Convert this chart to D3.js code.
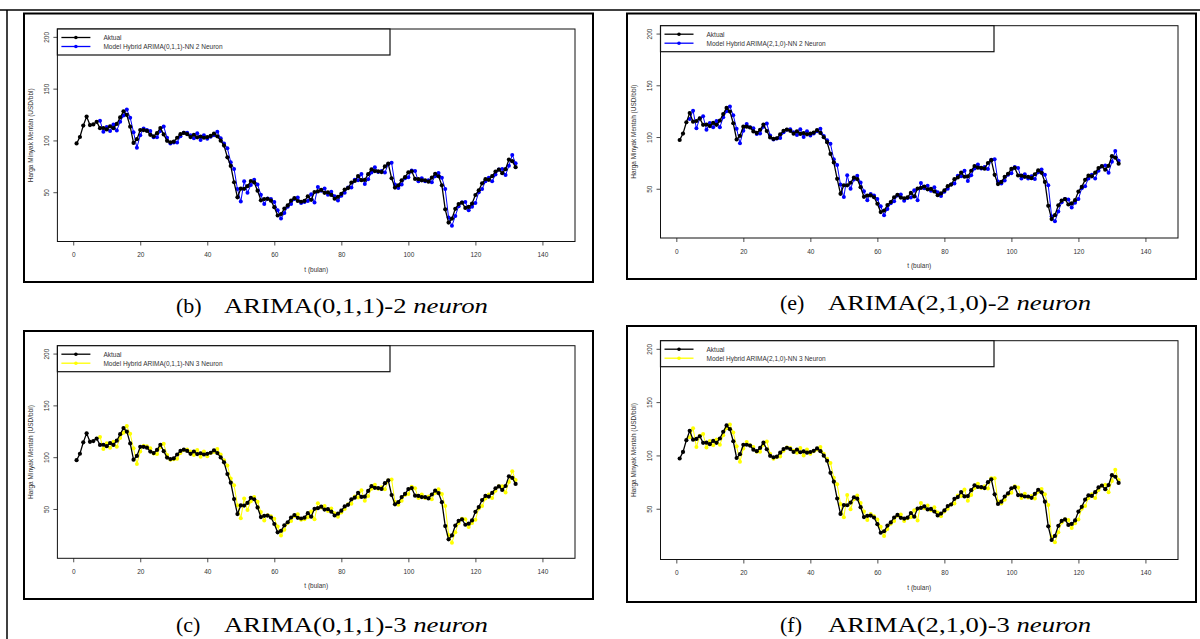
<!DOCTYPE html>
<html><head><meta charset="utf-8">
<script src="https://cdn.jsdelivr.net/npm/d3@7/dist/d3.min.js"></script>
<style>body{margin:0;background:#fff}</style>
</head><body>
<svg id="chart" width="1200" height="639" xmlns="http://www.w3.org/2000/svg"></svg>
<script>
// ---------- data ----------
const xTicks = [0, 20, 40, 60, 80, 100, 120, 140];
const yTicks = [50, 100, 150, 200];
const xLabel = "t (bulan)";
const yLabel = "Harga Minyak Mentah (USD/bbl)";
const legendActual = "Aktual";

// actual monthly crude price, t = 1..132
const actual = [
  97.1, 103.3, 114.3, 123.1, 114.8, 115.5, 118.0, 111.8, 112.0, 110.6,
  113.6, 111.8, 115.9, 122.2, 128.1, 124.6, 113.3, 97.6, 101.2, 110.0,
  110.0, 109.2, 105.4, 104.0, 107.0, 112.0, 105.8, 99.6, 98.2, 98.8,
  102.6, 106.0, 107.2, 106.0, 103.2, 105.5, 103.0, 103.8, 102.6, 103.2,
  104.3, 106.6, 104.0, 99.8, 95.0, 83.7, 75.4, 59.6, 45.1, 53.4,
  53.3, 55.8, 60.8, 59.4, 51.5, 42.2, 43.4, 43.6, 41.8, 35.5,
  27.5, 28.9, 34.2, 37.2, 41.8, 44.2, 41.5, 40.8, 41.6, 46.0,
  42.6, 50.2, 50.8, 52.2, 49.4, 49.8, 47.4, 43.7, 45.5, 48.4,
  52.5, 54.0, 59.3, 60.9, 65.6, 61.6, 61.9, 67.4, 72.0, 70.4,
  70.2, 69.4, 74.9, 77.6, 63.5, 54.5, 56.6, 61.5, 64.5, 69.2,
  70.2, 62.8, 62.6, 61.5, 61.5, 60.2, 64.0, 67.8, 65.4, 56.6,
  33.5, 20.7, 24.5, 34.0, 38.6, 40.0, 34.8, 35.8, 39.0, 47.3,
  51.8, 58.6, 62.6, 62.0, 65.5, 70.0, 71.8, 68.4, 72.2, 81.5,
  80.0, 74.2
];

// ARIMA(0,1,1)-NN 2 neuron, t = 8..132
const startB = 8;
const predB = [
  119, 108.5, 113, 109, 115.5, 109.5, 118, 124, 129.8, 122,
  108, 93, 105, 111.5, 110, 109, 103, 103, 109, 113.5,
  102.5, 97, 98, 98, 104, 107.5, 107.5, 105, 102, 107,
  100.5, 105, 101.5, 103.5, 105, 108.5, 102, 97, 92.5, 79,
  72.5, 53, 41, 60.5, 49.5, 57, 62, 57.5, 47.5, 38.5,
  44, 43.5, 40.5, 32.5, 24.5, 30, 36, 38.5, 43.5, 45,
  39.5, 40.5, 41.5, 48, 40, 55, 51.5, 53.5, 47.5, 50.5,
  46, 42, 46.5, 49.5, 54.5, 54.5, 62, 61.5, 67.5, 58,
  62.5, 69, 74, 69.5, 70.5, 69, 77, 78.5, 57.5, 54,
  57.5, 63.5, 64.5, 71, 70.5, 60.5, 63.5, 60.5, 61.5, 59.5,
  65.5, 68.5, 64, 53, 25.5, 17.5, 27, 36.5, 40, 40.5,
  32.5, 36, 39.5, 50, 53, 60.5, 64, 60.5, 67, 72,
  72.5, 66.5, 75.5, 86, 78
];

// ARIMA(0,1,1)-NN 3 neuron, t = 8..132
const startC = 8;
const predC = [
  119.5, 108, 113.5, 109, 115, 110, 118.5, 123.5, 130, 122.5,
  108.5, 93.5, 105.5, 111, 110.5, 108.5, 103.5, 103, 109.5, 113,
  102, 97.5, 98, 98.5, 104, 107, 107.5, 105.5, 102, 107,
  100.5, 105.5, 101, 104, 105, 108, 102.5, 97, 92, 79.5,
  73, 53.5, 41, 60, 49, 57.5, 61.5, 57, 47, 39,
  44, 43, 40.5, 33, 24.5, 30, 36.5, 38.5, 43, 45,
  39.5, 40, 42, 47.5, 40, 55.5, 51.5, 53, 48, 50.5,
  46, 42.5, 46.5, 50, 54.5, 55, 62, 61, 68, 58,
  62.5, 69.5, 73.5, 69.5, 71, 69, 77.5, 78.5, 57, 54,
  58, 63.5, 64.5, 71.5, 70, 60.5, 64, 60.5, 62, 59.5,
  65.5, 69, 64.5, 53, 25, 17.5, 27.5, 36.5, 40.5, 40,
  32.5, 36.5, 39.5, 50.5, 53, 60, 64, 60.5, 67.5, 72,
  72, 66, 76, 86.5, 78
];

// ARIMA(2,1,0)-NN 2 neuron, t = 4..132
const startE = 4;
const predE = [
  117.5, 125.5, 108.5, 118, 120, 107, 113.5, 109.5, 115.5, 109.5,
  119, 125, 129.5, 121, 108, 94, 106, 112.5, 109.5, 108.5,
  103, 103.5, 110, 113, 101.5, 97.5, 98.5, 99, 104.5, 107,
  107.5, 104.5, 102, 107.5, 100, 105.5, 101.5, 103.5, 105.5, 108,
  101, 97, 93.5, 78.5, 73, 54, 42, 63, 50, 59,
  62.5, 56, 47.5, 39, 45, 43.5, 40, 33, 24.5, 30.5,
  36, 38, 43.5, 44.5, 38.5, 41, 41.5, 48.5, 39, 55.5,
  50.5, 53, 48, 51.5, 46.5, 43, 47, 50, 54, 55,
  62.5, 62, 67.5, 57.5, 63, 69.5, 73.5, 69.5, 71, 69,
  78, 78.5, 57, 55, 58, 63.5, 65, 71, 70, 60,
  64, 60, 62, 59.5, 66, 68.5, 63.5, 53.5, 23.5, 18.5,
  28, 37, 40, 39.5, 32, 36.5, 40, 50.5, 52.5, 60,
  63.5, 60, 67.5, 71.5, 72.5, 65.5, 76, 86.5, 77
];

// ARIMA(2,1,0)-NN 3 neuron, t = 4..132
const startF = 4;
const predF = [
  117, 125.5, 108, 118.5, 120, 107.5, 113.5, 109.5, 115, 110,
  119, 125.5, 129, 121.5, 108.5, 94, 106.5, 112.5, 109.5, 108,
  103.5, 103.5, 110, 113, 101.5, 97, 98.5, 99, 104.5, 107.5,
  107, 104.5, 102.5, 107, 100, 105.5, 101.5, 104, 105.5, 108,
  101.5, 97, 93, 79, 73, 54.5, 42, 63, 49.5, 59,
  62.5, 55.5, 47.5, 39.5, 45, 43, 40, 33, 24.5, 31,
  36, 38.5, 43.5, 44.5, 38.5, 41, 42, 48.5, 39, 55.5,
  50.5, 53, 48.5, 51.5, 46.5, 43, 47.5, 50, 54, 55,
  62.5, 62, 68, 57.5, 63, 69.5, 73.5, 69.5, 71, 69,
  78.5, 78.5, 57, 55, 58.5, 63.5, 65, 71, 70, 60,
  64, 60.5, 62, 59.5, 66, 68.5, 63.5, 53.5, 23.5, 18.5,
  28, 37, 40, 39.5, 32, 36.5, 40, 50, 52.5, 60,
  63.5, 60, 67.5, 71.5, 72.5, 65.5, 76, 86.5, 77
];

const panels = [
  { letter: "(b)", model: "ARIMA(0,1,1)-2 ", legend: "Model Hybrid ARIMA(0,1,1)-NN 2 Neuron",
    pred: predB, start: startB, color: "#0000ff",
    outer: [24, 13.5, 593, 282], plot: [57.4, 29, 575, 241.5], legendRight: 390,
    capX: [176, 224], capEnd: 488, capY: 313 },
  { letter: "(e)", model: "ARIMA(2,1,0)-2 ", legend: "Model Hybrid ARIMA(2,1,0)-NN 2 Neuron",
    pred: predE, start: startE, color: "#0000ff",
    outer: [627, 13.5, 1196, 279], plot: [660.5, 25.7, 1178, 238], legendRight: 994,
    capX: [780, 828], capEnd: 1091, capY: 310 },
  { letter: "(c)", model: "ARIMA(0,1,1)-3 ", legend: "Model Hybrid ARIMA(0,1,1)-NN 3 Neuron",
    pred: predC, start: startC, color: "#ffff00",
    outer: [24, 331, 593, 599], plot: [57.4, 345.7, 575, 558.3], legendRight: 390,
    capX: [176, 224], capEnd: 488, capY: 632 },
  { letter: "(f)", model: "ARIMA(2,1,0)-3 ", legend: "Model Hybrid ARIMA(2,1,0)-NN 3 Neuron",
    pred: predF, start: startF, color: "#ffff00",
    outer: [627, 326, 1196, 602], plot: [660.5, 340.7, 1178, 559.5], legendRight: 994,
    capX: [780, 828], capEnd: 1091, capY: 632 }
];

// ---------- drawing ----------
const svg = d3.select("#chart");
svg.append("rect").attr("width", 1200).attr("height", 639).attr("fill", "#fff");

// table rules
svg.append("line").attr("x1", 0).attr("x2", 1200).attr("y1", 10).attr("y2", 10)
  .attr("stroke", "#000").attr("stroke-width", 1.5);
svg.append("line").attr("x1", 7).attr("x2", 7).attr("y1", 10).attr("y2", 639)
  .attr("stroke", "#000").attr("stroke-width", 1.5);

const small = "'Liberation Sans', Arial, sans-serif";
const textCol = "#333";

panels.forEach(p => {
  const g = svg.append("g");
  const [ox0, oy0, ox1, oy1] = p.outer;
  g.append("rect").attr("x", ox0).attr("y", oy0).attr("width", ox1 - ox0).attr("height", oy1 - oy0)
    .attr("fill", "none").attr("stroke", "#000").attr("stroke-width", 2);

  const [pl, pt, pr, pb] = p.plot;
  const x = d3.scaleLinear().domain([-4.72, 149.72]).range([pl, pr]);
  const y = d3.scaleLinear().domain([2.4, 207.6]).range([pb, pt]);

  // axes
  const xa = g.append("g").attr("transform", `translate(0,${pb})`)
    .call(d3.axisBottom(x).tickValues(xTicks).tickSize(4).tickPadding(7));
  xa.select(".domain").remove();
  xa.selectAll("line").attr("stroke", "#222").attr("stroke-width", 0.8);
  xa.selectAll("text").attr("font-family", small).attr("font-size", 6.5).attr("fill", textCol);

  const ya = g.append("g").attr("transform", `translate(${pl},0)`)
    .call(d3.axisLeft(y).tickValues(yTicks).tickSize(4).tickPadding(0));
  ya.select(".domain").remove();
  ya.selectAll("line").attr("stroke", "#222").attr("stroke-width", 0.8);
  ya.selectAll("text")
    .attr("font-family", small).attr("font-size", 6.5).attr("fill", textCol)
    .attr("x", 0).attr("dy", null).attr("text-anchor", "middle")
    .attr("transform", "translate(-11,0) rotate(-90)")
    .attr("dominant-baseline", "central");

  // plot box
  g.append("rect").attr("x", pl).attr("y", pt).attr("width", pr - pl).attr("height", pb - pt)
    .attr("fill", "none").attr("stroke", "#111").attr("stroke-width", 1);

  // axis titles
  g.append("text").attr("x", (pl + pr) / 2).attr("y", pb + 30)
    .attr("text-anchor", "middle").attr("font-family", small).attr("font-size", 6.5)
    .attr("fill", textCol).text(xLabel);
  g.append("text")
    .attr("transform", `translate(${pl - 27},${(pt + pb) / 2}) rotate(-90)`)
    .attr("text-anchor", "middle").attr("dominant-baseline", "central")
    .attr("font-family", small).attr("font-size", 6.5).attr("fill", textCol).text(yLabel);

  // series
  const line = d3.line().x(d => x(d.t)).y(d => y(d.v));
  const act = actual.map((v, i) => ({ t: i + 1, v }));
  const prd = p.pred.map((v, i) => ({ t: i + p.start, v }));

  g.append("path").datum(prd).attr("d", line).attr("fill", "none")
    .attr("stroke", p.color).attr("stroke-width", 1);
  g.selectAll(null).data(prd).enter().append("circle")
    .attr("cx", d => x(d.t)).attr("cy", d => y(d.v)).attr("r", 2).attr("fill", p.color);

  g.append("path").datum(act).attr("d", line).attr("fill", "none")
    .attr("stroke", "#000").attr("stroke-width", 1.3);
  g.selectAll(null).data(act).enter().append("circle")
    .attr("cx", d => x(d.t)).attr("cy", d => y(d.v)).attr("r", 2.1).attr("fill", "#000");

  // legend
  const lg = g.append("g");
  lg.append("rect").attr("x", pl).attr("y", pt).attr("width", p.legendRight - pl).attr("height", 26)
    .attr("fill", "#fff").attr("stroke", "#111").attr("stroke-width", 1.2);
  const items = [{ label: legendActual, color: "#000", dy: 8.5 }, { label: p.legend, color: p.color, dy: 17.5 }];
  items.forEach(it => {
    lg.append("line").attr("x1", pl + 4).attr("x2", pl + 33).attr("y1", pt + it.dy).attr("y2", pt + it.dy)
      .attr("stroke", it.color).attr("stroke-width", 1.3);
    lg.append("circle").attr("cx", pl + 18.5).attr("cy", pt + it.dy).attr("r", 1.8).attr("fill", it.color);
    lg.append("text").attr("x", pl + 46).attr("y", pt + it.dy).attr("dominant-baseline", "central")
      .attr("font-family", small).attr("font-size", 6.5).attr("fill", textCol).text(it.label);
  });

  // caption
  const cap = svg.append("text").attr("y", p.capY)
    .attr("font-family", "'Liberation Serif', 'Times New Roman', serif").attr("font-size", 22).attr("fill", "#000");
  cap.append("tspan").attr("x", p.capX[0]).text(p.letter);
  const body = svg.append("text").attr("x", p.capX[1]).attr("y", p.capY)
    .attr("font-family", "'Liberation Serif', 'Times New Roman', serif").attr("font-size", 22).attr("fill", "#000")
    .attr("textLength", p.capEnd - p.capX[1]).attr("lengthAdjust", "spacingAndGlyphs");
  body.append("tspan").text(p.model);
  body.append("tspan").attr("font-style", "italic").text("neuron");
});
</script>
</body></html>
